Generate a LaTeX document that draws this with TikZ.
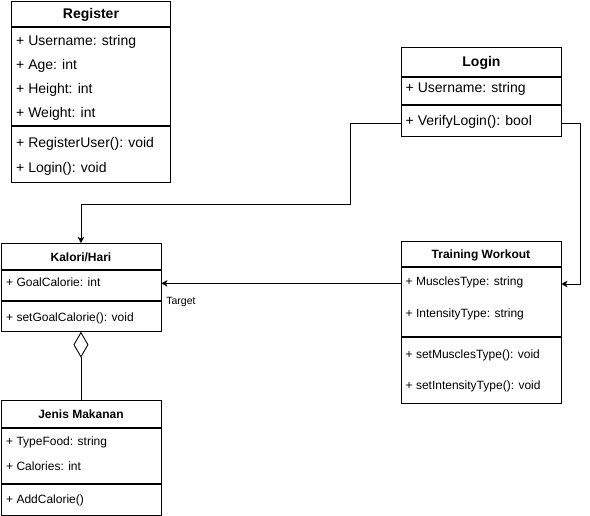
\documentclass[tikz,border=0pt]{standalone}
\usepackage{fontspec}
\setmainfont{Liberation Sans}
\usetikzlibrary{arrows.meta}

\tikzset{
	classbox/.style={draw, line width=0.9pt, anchor=north west, inner sep=0pt, text height=1em, text depth=0pt},
	bigtitle/.style={font=\fontsize{14}{16}\selectfont\bfseries},
	smalltitle/.style={font=\fontsize{12}{14}\selectfont\bfseries},
	bigfield/.style={anchor=west, inner sep=0pt, text height=1em, text depth=0pt, font=\fontsize{14}{16}\selectfont},
	smallfield/.style={anchor=west, inner sep=0pt, text height=1em, text depth=0pt, font=\fontsize{12}{14}\selectfont},
	assoc/.style={line width=0.9pt, -{Stealth[length=6pt, width=6.5pt, inset=1.5pt]}},
	aggr/.style={line width=0.9pt, -{Diamond[open, length=26pt, width=15pt]}},
}

\begin{document}
\begin{tikzpicture}[x=1pt, y=-1pt]
	%%%%% START %%%%%
	\useasboundingbox (0,0) rectangle (590,516);
	
	% Register
	\node[classbox, bigtitle, minimum width=159pt, minimum height=25pt] (regtitle) at (11,1) {Register};
	\node[classbox, minimum width=159pt, minimum height=98pt] (regattr) at (regtitle.south west) {};
	\node[classbox, minimum width=159pt, minimum height=56pt] (regmeth) at (regattr.south west) {};
	\node[bigfield] (reguser) at (16,41) {+ Username: string};
	\node[bigfield] (regage) at (16,65) {+ Age: int};
	\node[bigfield] (regheight) at (16,89) {+ Height: int};
	\node[bigfield] (regweight) at (16,113) {+ Weight: int};
	\node[bigfield] (regreg) at (16,142.5) {+ RegisterUser(): void};
	\node[bigfield] (reglogin) at (16,168) {+ Login(): void};
	
	% Login
	\node[classbox, bigtitle, minimum width=160pt, minimum height=29pt] (logtitle) at (401,47) {Login};
	\node[classbox, minimum width=160pt, minimum height=27pt] (logattr) at (logtitle.south west) {};
	\node[classbox, minimum width=160pt, minimum height=31pt] (logmeth) at (logattr.south west) {};
	\node[bigfield] (loguser) at (405.5,88) {+ Username: string};
	\node[bigfield] (logverify) at (405.5,121) {+ VerifyLogin(): bool};
	
	% Training Workout
	\node[classbox, smalltitle, minimum width=160pt, minimum height=25pt] (traintitle) at (400.5,241) {Training Workout};
	\node[classbox, minimum width=160pt, minimum height=69pt] (trainattr) at (traintitle.south west) {};
	\node[classbox, minimum width=160pt, minimum height=66pt] (trainmeth) at (trainattr.south west) {};
	\node[smallfield] (trainmuscle) at (405.5,281) {+ MusclesType: string};
	\node[smallfield] (trainintens) at (405.5,313) {+ IntensityType: string};
	\node[smallfield] (trainsetm) at (405.5,354) {+ setMusclesType(): void};
	\node[smallfield] (trainseti) at (405.5,384) {+ setIntensityType(): void};
	
	% Kalori/Hari
	\node[classbox, smalltitle, minimum width=160pt, minimum height=26pt] (kaltitle) at (0.5,243) {Kalori/Hari};
	\node[classbox, minimum width=160pt, minimum height=30pt] (kalattr) at (kaltitle.south west) {};
	\node[classbox, minimum width=160pt, minimum height=30pt] (kalmeth) at (kalattr.south west) {};
	\node[smallfield] (kalgoal) at (6,282) {+ GoalCalorie: int};
	\node[smallfield] (kalset) at (6,317) {+ setGoalCalorie(): void};
	
	% Jenis Makanan
	\node[classbox, smalltitle, minimum width=160pt, minimum height=27pt] (jentitle) at (0.5,400) {Jenis Makanan};
	\node[classbox, minimum width=160pt, minimum height=55pt] (jenattr) at (jentitle.south west) {};
	\node[classbox, minimum width=160pt, minimum height=31pt] (jenmeth) at (jenattr.south west) {};
	\node[smallfield] (jenfood) at (6,440) {+ TypeFood: string};
	\node[smallfield] (jencal) at (6,465) {+ Calories: int};
	\node[smallfield] (jenadd) at (6,498) {+ AddCalorie()};
	
	% connectors
	\coordinate (bendL) at (350,204);
	\coordinate (bendR) at (580,284);
	\coordinate (trainout) at ([yshift=18.5pt]trainattr.west);
	
	\draw[assoc] ([yshift=-2.5pt]logmeth.west) -| (bendL) -| (kaltitle.north);
	\draw[assoc] ([yshift=-2.5pt]logmeth.east) -| (bendR) -- (bendR -| trainattr.east);
	\draw[assoc] (trainout) -- (trainout -| kalattr.east)
		node[pos=1, anchor=west, inner sep=0pt, xshift=4.5pt, yshift=-19pt, font=\fontsize{10.5}{12}\selectfont] (target) {Target};
	\draw[aggr] (jentitle.north) -- (kalmeth.south);
	
	%%%%% END %%%%%
\end{tikzpicture}
\end{document}
